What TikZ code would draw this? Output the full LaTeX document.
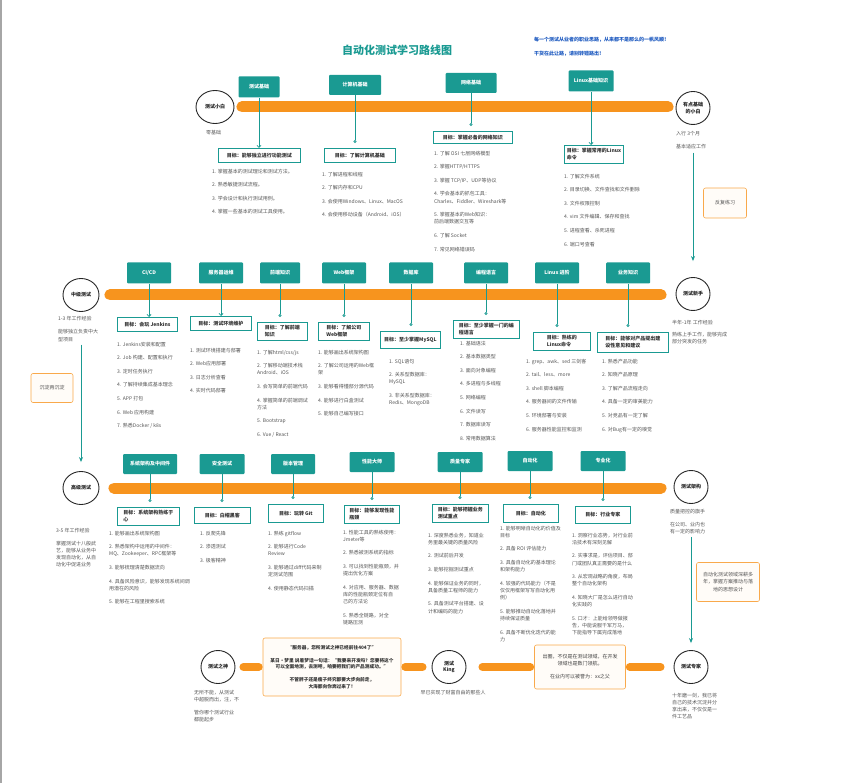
\documentclass[tikz,border=0pt]{standalone}
\usepackage{fontspec}
\setmainfont{Noto Sans CJK SC}
\usetikzlibrary{shapes.geometric,arrows.meta}
\definecolor{roadteal}{HTML}{1A9A92}
\definecolor{roadorange}{HTML}{F7941E}
\definecolor{roadblue}{HTML}{1F5BC0}
\definecolor{itemgray}{HTML}{555555}

\begin{document}
\begin{tikzpicture}[x=1pt,y=-1pt,
    font=\fontsize{5}{7.2}\selectfont,
    milestone/.style={ellipse, draw=black!85, line width=0.9pt, minimum width=34pt, minimum height=33pt,
                      inner sep=0pt, align=center, font=\fontsize{5}{6.5}\selectfont\bfseries, text=black!85},
    topic/.style={rectangle, rounded corners=1pt, fill=roadteal, text=white, minimum width=44pt,
                  minimum height=21pt, inner sep=1pt, font=\fontsize{5}{6}\selectfont\bfseries},
    goal/.style={rectangle, draw=roadteal, fill=white, line width=0.8pt, anchor=north west, align=left,
                 inner xsep=2.5pt, inner ysep=3pt, minimum height=14.5pt, text=black!80,
                 font=\fontsize{5}{7}\selectfont\bfseries},
    items/.style={anchor=north west, align=left, inner sep=0pt, text=itemgray},
    note/.style={anchor=north west, align=left, inner sep=0pt, text=itemgray},
    advice/.style={rectangle, rounded corners=2pt, draw=roadorange!80, fill=roadorange!3,
                   line width=0.6pt, align=center, text=itemgray},
    road/.style={draw=roadorange, line width=11pt, line cap=round},
    link/.style={draw=roadorange, line width=8pt, line cap=round},
    reach/.style={draw=roadteal, line width=0.8pt, shorten >=5pt, -{Circle[open, length=3pt, width=3pt]}},
    aim/.style={draw=roadteal, line width=0.8pt, -{Straight Barb[length=2pt, width=4pt]}},
    climb/.style={draw=roadteal, line width=1pt, -{Stealth[length=5pt, width=4pt]}}]

  \useasboundingbox (0,0) rectangle (846,783);
  \draw[gray!70, line width=1.5pt] (1,0) -- (1,783);

  % title
  \node[font=\fontsize{11}{12}\selectfont\bfseries, text=roadteal] (title) at (397,50) {自动化测试学习路线图};
  \node[note, text=roadblue, font=\fontsize{5}{13.5}\selectfont\bfseries] (motto) at (534,37.2)
    {每一个测试从业者的职业思路，从来都不是那么的一帆风顺！\\干货在此让路，请别转错路出！};

  % milestones
  \node[milestone, minimum width=38pt] (novice) at (215,107) {测试小白};
  \node[milestone] (basic) at (693,108) {有点基础\\的小白};
  \node[milestone] (newbie) at (693,294) {测试新手};
  \node[milestone, minimum width=36pt] (middle) at (81,295) {中级测试};
  \node[milestone, minimum width=36pt] (senior) at (81,488) {高级测试};
  \node[milestone] (architect) at (691,487) {测试架构};
  \node[milestone] (expert) at (691,667) {测试专家};
  \node[milestone] (king) at (449,667) {测试\\King};
  \node[milestone] (god) at (218,667) {测试之神};

  \node[note] (zero) at (206,129.7) {零基础};
  \node[note] (basicnote) at (676,130.7) {入行 3个月\\[5.8pt]基本适应工作};
  \node[note] (newbienote) at (672,319.7) {半年-1年 工作经验\\[4.8pt]熟练上手工作，能够完成\\部分突发的任务};
  \node[note] (middlenote) at (58,315.7) {1-3 年工作经验\\[6.6pt]能够独立负责中大\\型项目};
  \node[note] (seniornote) at (56,527.7) {3-5 年工作经验\\[5.8pt]掌握测试十八般武\\艺，能够从业务中\\发现自动化，从自\\动化中促进业务};
  \node[note] (archnote) at (670,508.7) {质量把控的旗手\\[5.8pt]在公司、业内也\\有一定的影响力};
  \node[note] (godnote) at (194,689.7) {无所不能，从测试\\中超脱而出，注，不\\[5.8pt]管你哪个测试行业\\都能起步};
  \node[note, anchor=north] (kingnote) at (453,689.7) {早已实现了财富自由的那些人};
  \node[note] (expertnote) at (672,692.7) {十年磨一剑，我已将\\自己的技术沉淀并分\\享出来，不仅仅是一\\件工艺品};

  \node[advice, minimum width=43pt, minimum height=30pt] (practice) at (725,203) {反复练习};
  \node[advice, minimum width=42pt, minimum height=29pt] (settle) at (52,388) {沉淀再沉淀};
  \node[advice, minimum width=63pt, minimum height=39pt] (deep) at (728,582) {自动化测试领域深耕多\\年，掌握方案推动与落\\地的思想设计};

  \node[advice, minimum width=138pt, minimum height=58pt, text=black!80,
        font=\fontsize{4.7}{6.3}\selectfont\bfseries] (legend) at (332,667)
    {“服务器，您所测试之神已经前往404了”\\[6.7pt]某日·梦里 说着梦话一句话：“我要来开发吗？您要将这个\\可以全面地测，去测吧，咱要把我们的产品测成功。”\\[6.7pt]不管胖子还是瘦子终究都要大步向前走，\\大海都向你奔过来了！};
  \node[advice, minimum width=91pt, minimum height=44pt, text=black!75] (fame) at (580,667)
    {出圈，不仅是在测试领域，在开发\\领域也是数门领航。\\[5.8pt]在业内可以被誉为：xx之父};

  % roads
  \draw[road, shorten <=7.5pt, shorten >=7.5pt] (novice) -- (novice -| basic.west);
  \draw[road, shorten <=10.5pt, shorten >=14.5pt] (middle) -- (middle -| newbie.west);
  \draw[road, shorten <=14.5pt, shorten >=12.5pt] (senior) -- (senior -| architect.west);
  \draw[link, shorten <=8pt, shorten >=4pt] (god) -- (legend);
  \draw[link, shorten <=4pt, shorten >=9pt] (legend) -- (king);
  \draw[link, shorten <=16pt, shorten >=4pt] (king) -- (fame);
  \draw[link, shorten <=4pt, shorten >=13pt] (fame) -- (expert);

  \draw[climb, shorten <=4pt, shorten >=16pt] (basicnote.south -| basic) -- (newbie);
  \draw[climb, shorten <=3pt, shorten >=9pt] (middlenote.south -| middle) -- (senior);
  \draw[climb, shorten <=3pt, shorten >=7pt] (archnote.south -| architect) -- (expert);

  % row 1
  \node[topic, minimum width=41pt] (base) at (259,87) {测试基础};
  \node[topic, minimum width=52pt, minimum height=20pt] (cs) at (355,85) {计算机基础};
  \node[topic, minimum width=51pt, minimum height=20pt] (net) at (471,83) {网络基础};
  \node[topic, minimum width=45pt] (lnx) at (591,81) {Linux基础知识};

  \node[goal, minimum width=82pt] (gbase) at (218,148) {目标：能够独立进行功能测试};
  \node[goal, minimum width=71pt] (gcs) at (324,148) {目标：了解计算机基础};
  \node[goal, minimum width=79pt, minimum height=12pt] (gnet) at (433,131) {目标：掌握必备的网络知识};
  \node[goal, minimum width=58pt, minimum height=18pt] (glnx) at (564,145) {目标：掌握常用的Linux\\命令};

  \draw[aim] (base.south) -- (base.south |- gbase.north);
  \draw[reach] (cs.south) -- (cs.south |- gcs.north);
  \draw[reach] (net.south) -- (net.south |- gnet.north);
  \draw[aim] (lnx.south) -- (lnx.south |- glnx.north);

  \node[items] (ibase) at (212,168.7) {1. 掌握基本的测试理论和测试方法。\\[6.4pt]2. 熟悉敏捷测试流程。\\[6.4pt]3. 学会设计和执行测试用例。\\[6.4pt]4. 掌握一些基本的测试工具使用。};
  \node[items] (ics) at (322,171.7) {1. 了解进程和线程\\[6.4pt]2. 了解内存和CPU\\[6.4pt]3. 会使用Windows、Linux、MacOS\\[6.4pt]4. 会使用移动设备（Android、iOS）};
  \node[items] (inet) at (434,150.7) {1. 了解 OSI 七层网络模型\\[6.4pt]2. 掌握HTTP/HTTPS\\[6.4pt]3. 掌握 TCP/IP、UDP等协议\\[6.4pt]4. 学会基本的抓包工具：\\Charles、Fiddler、Wireshark等\\[6.4pt]5. 掌握基本的Web知识：\\前后端数据交互等\\[6.4pt]6. 了解 Socket\\[6.4pt]7. 常见网络错误码};
  \node[items] (ilnx) at (564,173.7) {1. 了解文件系统\\[6.4pt]2. 目录切换、文件查找和文件删除\\[6.4pt]3. 文件权限控制\\[6.4pt]4. vim 文件编辑、保存和查找\\[6.4pt]5. 进程查看、杀死进程\\[6.4pt]6. 端口号查看};

  % row 2
  \node[topic] (cicd) at (149,273) {CI/CD};
  \node[topic] (ops) at (221,273) {服务器运维};
  \node[topic, minimum width=40pt] (front) at (280,273) {前端知识};
  \node[topic] (frame) at (344,273) {Web框架};
  \node[topic] (db) at (411,273) {数据库};
  \node[topic] (lang) at (486,273) {编程语言};
  \node[topic] (lnxx) at (557,273) {Linux 进阶};
  \node[topic] (biz) at (628,273) {业务知识};

  \node[goal, minimum width=60pt] (gcicd) at (117,317) {目标：会玩 Jenkins};
  \node[goal, minimum width=61pt] (gops) at (190,316) {目标：测试环境维护};
  \node[goal, minimum width=50pt, minimum height=18pt] (gfront) at (257,322) {目标：了解前端\\知识};
  \node[goal, minimum width=51pt, minimum height=18pt] (gframe) at (318,322) {目标：了解公司\\Web框架};
  \node[goal, minimum width=60pt, minimum height=17pt] (gdb) at (380,331) {目标：至少掌握MySQL};
  \node[goal, minimum width=66pt, minimum height=17pt] (glang) at (453,320) {目标：至少掌握一门的编\\程语言};
  \node[goal, minimum width=57pt, minimum height=17pt] (glnxx) at (533,332) {目标：熟练的\\Linux命令};
  \node[goal, minimum width=71pt, minimum height=20pt] (gbiz) at (597,332) {目标：能够对产品提出建\\设性意见和建议};

  \draw[aim] (cicd.south) -- (cicd.south |- gcicd.north);
  \draw[aim] (ops.south) -- (ops.south |- gops.north);
  \draw[reach] (front.south) -- (front.south |- gfront.north);
  \draw[reach] (frame.south) -- (frame.south |- gframe.north);
  \draw[reach] (db.south) -- (db.south |- gdb.north);
  \draw[reach] (lang.south) -- (lang.south |- glang.north);
  \draw[reach] (lnxx.south) -- (lnxx.south |- glnxx.north);
  \draw[reach] (biz.south) -- (biz.south |- gbiz.north);

  \node[items] (icicd) at (117,341.7) {1. Jenkins安装和配置\\[6.4pt]2. Job 构建、配置和执行\\[6.4pt]3. 定时任务执行\\[6.4pt]4. 了解持续集成基本理念\\[6.4pt]5. APP 打包\\[6.4pt]6. Web 应用构建\\[6.4pt]7. 熟悉Docker / k8s};
  \node[items] (iops) at (190,347.7) {1. 测试环境搭建与部署\\[6.4pt]2. Web应用部署\\[6.4pt]3. 日志分析查看\\[6.4pt]4. 实时代码部署};
  \node[items] (ifront) at (257,349.7) {1. 了解html/css/js\\[6.4pt]2. 了解移动端技术栈\\Android、iOS\\[6.4pt]3. 会写简单的前端代码\\[6.4pt]4. 掌握简单的前端调试\\方法\\[6.4pt]5. Bootstrap\\[6.4pt]6. Vue / React};
  \node[items] (iframe) at (318,349.7) {1. 能够画出系统架构图\\[6.4pt]2. 了解公司运用的Web框\\架\\[6.4pt]3. 能够看得懂部分源代码\\[6.4pt]4. 能够进行白盒测试\\[6.4pt]5. 能够自己编写接口};
  \node[items] (idb) at (389,358.7) {1. SQL语句\\[6.4pt]2. 关系型数据库：\\MySQL\\[6.4pt]3. 非关系型数据库：\\Redis、MongoDB};
  \node[items] (ilang) at (460,340.7) {1. 基础语法\\[6.4pt]2. 基本数据类型\\[6.4pt]3. 面向对象编程\\[6.4pt]4. 多进程与多线程\\[6.4pt]5. 网络编程\\[6.4pt]6. 文件读写\\[6.4pt]7. 数据库读写\\[6.4pt]8. 常用数据算法};
  \node[items] (ilnxx) at (526,358.7) {1. grep、awk、sed 三剑客\\[6.4pt]2. tail、less、more\\[6.4pt]3. shell 脚本编程\\[6.4pt]4. 服务器间的文件传输\\[6.4pt]5. 环境部署与安装\\[6.4pt]6. 服务器性能监控和监测};
  \node[items] (ibiz) at (602,358.7) {1. 熟悉产品功能\\[6.4pt]2. 知晓产品原理\\[6.4pt]3. 了解产品流程走向\\[6.4pt]4. 具备一定的审美能力\\[6.4pt]5. 对竞品有一定了解\\[6.4pt]6. 对Bug有一定的嗅觉};

  % row 3
  \node[topic, minimum width=54pt, minimum height=20pt] (arch) at (150,464) {系统架构及中间件};
  \node[topic, minimum width=45pt, minimum height=20pt] (sec) at (222,464) {安全测试};
  \node[topic, minimum height=20pt] (vcs) at (293,464) {版本管理};
  \node[topic, minimum width=45pt, minimum height=20pt] (perf) at (372,462) {性能大师};
  \node[topic, minimum width=45pt, minimum height=20pt] (qa) at (460,462) {质量专家};
  \node[topic, minimum width=45pt, minimum height=20pt] (auto) at (530,461) {自动化};
  \node[topic, minimum width=45pt, minimum height=20pt] (pro) at (603,461) {专业化};

  \node[goal, minimum width=62pt, minimum height=17pt] (garch) at (117,507) {目标：系统架构熟练于\\心};
  \node[goal, minimum width=56pt, minimum height=16pt] (gsec) at (194,507) {目标：白帽黑客};
  \node[goal, minimum width=55pt, minimum height=18pt] (gvcs) at (268,504) {目标：玩转 Git};
  \node[goal, minimum width=55pt, minimum height=17pt] (gperf) at (344,505) {目标：能够发现性能\\瓶颈};
  \node[goal, minimum width=56pt, minimum height=18pt] (gqa) at (432,504) {目标：能够把握业务\\测试重点};
  \node[goal, minimum width=55pt, minimum height=18pt] (gauto) at (503,504) {目标：自动化};
  \node[goal, minimum width=55pt, minimum height=17pt] (gpro) at (575,506) {目标：行业专家};

  \draw[reach] (arch.south) -- (arch.south |- garch.north);
  \draw[reach] (sec.south) -- (sec.south |- gsec.north);
  \draw[reach] (vcs.south) -- (vcs.south |- gvcs.north);
  \draw[reach] (perf.south) -- (perf.south |- gperf.north);
  \draw[reach] (qa.south) -- (qa.south |- gqa.north);
  \draw[reach] (auto.south) -- (auto.south |- gauto.north);
  \draw[reach] (pro.south) -- (pro.south |- gpro.north);

  \node[items] (iarch) at (109,530.7) {1. 能够画出系统架构图\\[6.4pt]2. 熟悉架构中运用的中间件：\\MQ、Zookeeper、RPC框架等\\[6.4pt]3. 能够梳理清楚数据流向\\[6.4pt]4. 具备风险意识，能够发现系统间调\\用潜在的风险\\[6.4pt]5. 能够在工程里搜索系统};
  \node[items] (isec) at (200,530.7) {1. 反爬先锋\\[6.4pt]2. 渗透测试\\[6.4pt]3. 极客精神};
  \node[items] (ivcs) at (268,530.7) {1. 熟练 gitflow\\[6.4pt]2. 能够进行Code\\Review\\[6.4pt]3. 能够通过diff代码来制\\定测试范围\\[6.4pt]4. 使用静态代码扫描};
  \node[items] (iperf) at (343,529.7) {1. 性能工具的熟练使用：\\Jmeter等\\[6.4pt]2. 熟悉被测系统的指标\\[6.4pt]3. 可以找到性能瓶颈，并\\提出优化方案\\[6.4pt]4. 对应用、服务器、数据\\库的性能瓶颈定位有自\\己的方法论\\[6.4pt]5. 熟悉全链路，对全\\链路压测};
  \node[items] (iqa) at (428,532.7) {1. 深度熟悉业务，知道业\\务里最关键的质量风险\\[6.4pt]2. 测试前后开发\\[6.4pt]3. 能够挖掘测试重点\\[6.4pt]4. 能够保证业务的同时，\\具备质量工程师的能力\\[6.4pt]5. 具备测试平台搭建、设\\计和编码的能力};
  \node[items] (iauto) at (500,525.7) {1. 能够明晰自动化的价值及\\目标\\[6.4pt]2. 具备 ROI 评估能力\\[6.4pt]3. 具备自动化的基本理论\\和架构能力\\[6.4pt]4. 较强的代码能力（不是\\仅仅用框架写写自动化用\\例）\\[6.4pt]5. 能够推动自动化落地并\\持续保证质量\\[6.4pt]6. 具备不断优化迭代的能\\力};
  \node[items] (ipro) at (572,532.7) {1. 洞察行业态势，对行业前\\沿技术有深刻见解\\[6.4pt]2. 实事求是，评估项目、部\\门或团队真正需要的是什么\\[6.4pt]3. 从宏观战略的角度，布局\\整个自动化架构\\[6.4pt]4. 知晓大厂是怎么进行自动\\化实践的\\[6.4pt]5. 口才：上能给领导做报\\告，中能说服千军万马，\\下能指导下属完成落地};

\end{tikzpicture}
\end{document}
